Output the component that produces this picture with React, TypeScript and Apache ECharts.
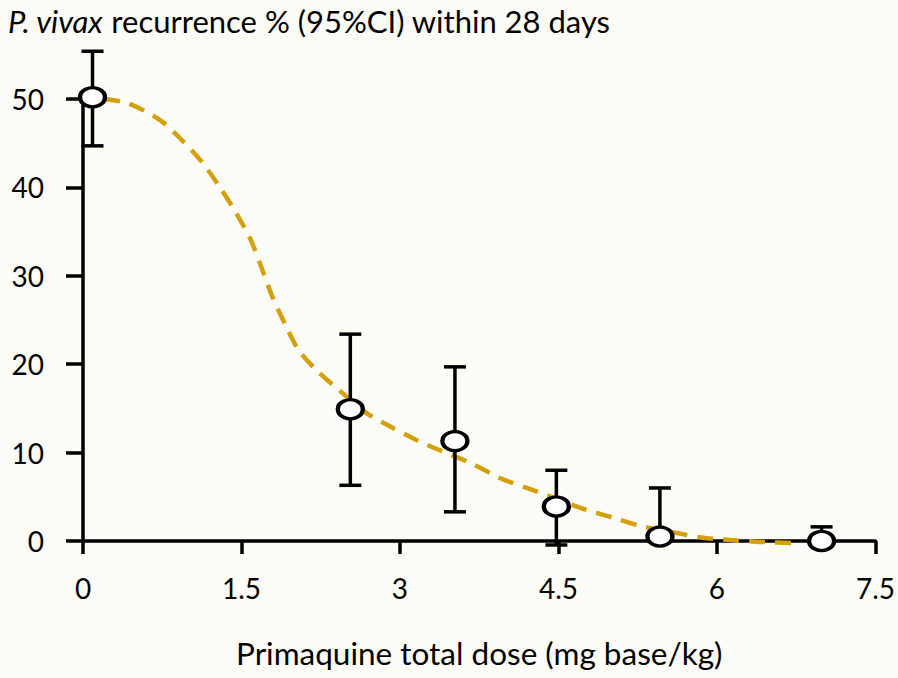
import React, { useEffect, useRef } from "react";
import * as echarts from "echarts";

const titleItalic = "P. vivax";
const titleRest = " recurrence % (95%CI) within 28 days";
const xAxisName = "Primaquine total dose (mg base/kg)";
const xTicks = [0, 1.5, 3, 4.5, 6, 7.5];
const yTicks = [0, 10, 20, 30, 40, 50];

// observed points: dose, recurrence %, lower CI, upper CI
const doses = [0.09, 2.53, 3.52, 4.48, 5.46, 6.99];
const recurrence = [50.2, 14.9, 11.3, 3.9, 0.5, 0.0];
const ciLow = [44.7, 6.3, 3.3, -0.45, 0.5, 0.0];
const ciHigh = [55.4, 23.4, 19.7, 8.0, 6.0, 1.6];

// fitted curve (dashed)
const curveX = [0.2, 0.43, 0.73, 0.94, 1.13, 1.29, 1.45, 1.59, 1.69, 1.79, 1.91, 2.04, 2.23, 2.44, 2.68, 2.9, 3.16, 3.37, 3.69, 3.95, 4.2, 4.48, 4.72, 5.0, 5.28, 5.62, 5.85, 6.13, 6.4, 6.79];
const curveY = [50.0, 49.5, 47.6, 45.3, 42.8, 40.1, 37.1, 34.0, 30.9, 27.7, 24.6, 21.6, 19.1, 16.9, 14.5, 13.0, 11.4, 10.3, 8.7, 7.1, 6.0, 4.8, 3.7, 2.7, 1.7, 0.9, 0.4, 0.1, -0.1, -0.25];

const FONT = "Lato, 'Open Sans', sans-serif";

export default function App() {
  const ref = useRef<HTMLDivElement>(null);
  useEffect(() => {
    if (!ref.current) return;
    const chart = echarts.init(ref.current, undefined, { renderer: "svg" });
    const errData = doses.map((d, i) => [d, recurrence[i], ciLow[i], ciHigh[i]]);
    chart.setOption({
      animation: false,
      backgroundColor: "#FDFCF7",
      textStyle: { fontFamily: FONT },
      title: {
        text: "{i|" + titleItalic + "}" + titleRest,
        left: 3,
        top: 0,
        textStyle: {
          fontFamily: FONT,
          fontSize: 31,
          fontWeight: "normal",
          color: "#000",
          rich: {
            i: { fontFamily: FONT, fontSize: 31, fontStyle: "italic", color: "#000" },
          },
        },
      },
      grid: { left: 83, right: 22, top: 99, bottom: 137, containLabel: false },
      xAxis: {
        type: "value",
        min: 0,
        max: 7.5,
        interval: 1.5,
        offset: 6,
        splitLine: { show: false },
        axisLine: { show: true, lineStyle: { color: "#000", width: 3.5 } },
        axisTick: { show: true, length: 13, lineStyle: { color: "#000", width: 3.5 } },
        axisLabel: {
          margin: 27,
          fontSize: 28,
          color: "#000",
          fontFamily: FONT,
          formatter: (v: number) => (xTicks.includes(v) ? String(v) : ""),
        },
        name: xAxisName,
        nameLocation: "middle",
        nameGap: 90,
        nameTextStyle: { fontSize: 31.5, color: "#000", fontFamily: FONT },
      },
      yAxis: {
        type: "value",
        min: 0,
        max: 50,
        interval: 10,
        offset: 11,
        splitLine: { show: false },
        axisLine: { show: true, lineStyle: { color: "#000", width: 3.5 } },
        axisTick: { show: true, length: 17, lineStyle: { color: "#000", width: 3.5 } },
        axisLabel: {
          margin: 28,
          fontSize: 28,
          color: "#000",
          fontFamily: FONT,
          formatter: (v: number) => (yTicks.includes(v) ? String(v) : ""),
        },
      },
      series: [
        {
          type: "line",
          data: curveX.map((x, i) => [x, curveY[i]]),
          smooth: 0.3,
          symbol: "none",
          clip: false,
          z: 2,
          lineStyle: { color: "#D4A00C", width: 4.5, type: [16, 10] },
        },
        {
          type: "custom",
          data: errData,
          clip: false,
          z: 3,
          renderItem: (params: any, api: any) => {
            const x = api.value(0);
            const lo = api.coord([x, api.value(2)]);
            const hi = api.coord([x, api.value(3)]);
            const half = 11;
            const style = { stroke: "#000", lineWidth: 3.5 };
            return {
              type: "group",
              children: [
                { type: "line", shape: { x1: lo[0], y1: lo[1], x2: hi[0], y2: hi[1] }, style },
                { type: "line", shape: { x1: hi[0] - half, y1: hi[1], x2: hi[0] + half, y2: hi[1] }, style },
                { type: "line", shape: { x1: lo[0] - half, y1: lo[1], x2: lo[0] + half, y2: lo[1] }, style },
              ],
            };
          },
        },
        {
          type: "scatter",
          data: doses.map((d, i) => [d, recurrence[i]]),
          symbol: "circle",
          symbolSize: [25, 19],
          clip: false,
          z: 4,
          itemStyle: { color: "#fff", borderColor: "#000", borderWidth: 3.8, opacity: 1 },
        },
      ],
    });
    return () => chart.dispose();
  }, []);
  return (
    <div
      ref={ref}
      style={{ position: "fixed", left: 0, top: 0, width: 898, height: 678 }}
    />
  );
}
